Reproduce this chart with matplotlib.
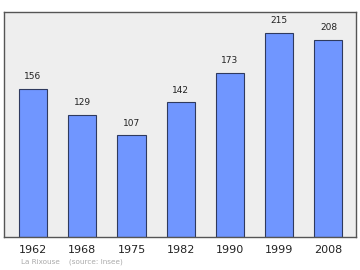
import matplotlib
matplotlib.use("Agg")
import matplotlib.pyplot as plt

years = ["1962", "1968", "1975", "1982", "1990", "1999", "2008"]
population = [156, 129, 107, 142, 173, 215, 208]
place = "La Rixouse"
source = "(source: Insee)"

fig = plt.figure(figsize=(3.6, 2.7), dpi=100)
ax = fig.add_axes([4 / 360, 1 - 237 / 270, 352 / 360, 225 / 270])
ax.set_facecolor("#eeeeee")

x = range(len(years))
ax.bar(x, population, width=0.57, color="#7096ff", edgecolor="#2f3a5e", linewidth=0.8, zorder=2)
for i, v in zip(x, population):
    ax.text(i, v + 8, str(v), ha="center", va="bottom", fontsize=6.5, color="#222222")

ax.set_xlim(-0.59, 6.56)
ax.set_ylim(0, 237)
ax.set_xticks(list(x))
ax.set_xticklabels(years, fontsize=8, color="#222222")
ax.tick_params(axis="x", length=0, pad=6)
ax.set_yticks([])
for s in ax.spines.values():
    s.set_color("#555555")
    s.set_linewidth(1.0)

fig.text(21 / 360, 1 - 262 / 270, place + "    " + source, fontsize=5.2, color="#aaaaaa", va="center")

fig.savefig("out.png", dpi=100)
